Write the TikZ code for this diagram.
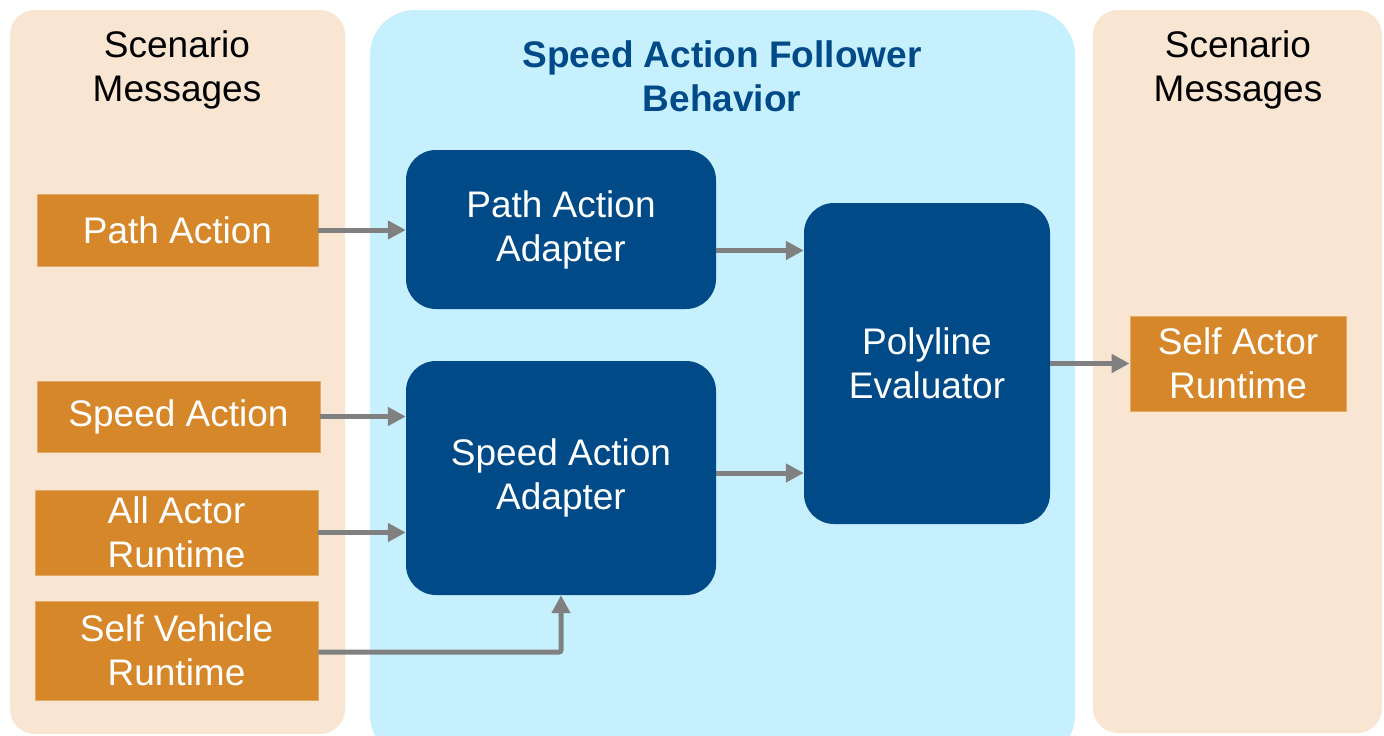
\documentclass[tikz,border=0pt]{standalone}
\usepackage{fontspec}
\setmainfont{Liberation Sans}
\usetikzlibrary{arrows.meta,calc}
\definecolor{beige}{HTML}{F8E6D3}
\definecolor{lblue}{HTML}{C6F0FE}
\definecolor{orng}{HTML}{D6872A}
\definecolor{dblue}{HTML}{004A87}
\definecolor{agray}{HTML}{808080}
\tikzset{
  obox/.style={fill=orng, draw=orng!70!white, line width=0.8pt, text=white, align=center,
    font=\fontsize{37}{44}\selectfont, inner sep=0pt},
  bbox/.style={fill=dblue, rounded corners=30pt, text=white, align=center,
    font=\fontsize{37}{44}\selectfont, inner sep=0pt},
  hdr/.style={align=center, font=\fontsize{37}{44}\selectfont, inner sep=0pt},
  conn/.style={draw=agray, line width=5pt, -{Triangle[length=18pt,width=18pt]}}
}
\begin{document}
\begin{tikzpicture}[x=1pt,y=-1pt]
\useasboundingbox (0,0) rectangle (1384,736);
\fill[white] (0,0) rectangle (1384,736);
% panels
\fill[beige, rounded corners=25pt] (10,10) rectangle (345,734);
\fill[lblue, rounded corners=45pt] (370,10) rectangle (1075,760);
\fill[beige, rounded corners=25pt] (1093,10) rectangle (1382,733);
% headers
\node[hdr] (h1) at (177,70) {Scenario\\Messages};
\node[hdr] (h2) at (1238,70) {Scenario\\Messages};
\node[hdr, text=dblue, font=\fontsize{37}{44}\selectfont\bfseries] (title) at (722,76) {Speed Action Follower\\Behavior};
% orange boxes
\node[obox, minimum width=281pt, minimum height=72pt] (pa) at (177.5,230) {Path Action};
\node[obox, minimum width=283pt, minimum height=71pt] (sa) at (178.5,416.5) {Speed Action};
\node[obox, minimum width=283pt, minimum height=85pt] (aa) at (176.5,532.5) {All Actor\\Runtime};
\node[obox, minimum width=283pt, minimum height=99pt] (sv) at (176.5,650.5) {Self Vehicle\\Runtime};
\node[obox, minimum width=216pt, minimum height=95pt] (sar) at (1238,363.5) {Self Actor\\Runtime};
% blue boxes
\node[bbox, minimum width=310pt, minimum height=159pt] (paa) at (561,229.5) {\raisebox{-3pt}{\parbox{300pt}{\centering Path Action\\Adapter}}};
\node[bbox, minimum width=310pt, minimum height=234pt] (saa) at (561,478) {\raisebox{-3pt}{\parbox{300pt}{\centering Speed Action\\Adapter}}};
\node[bbox, minimum width=246pt, minimum height=321pt] (pe) at (927,363.5) {Polyline\\Evaluator};
% connectors
\draw[conn] (pa.east) -- (pa.east -| paa.west);
\draw[conn] (sa.east) -- (sa.east -| saa.west);
\draw[conn] (aa.east) -- (aa.east -| saa.west);
\draw[conn, rounded corners=2pt] ([yshift=-1.5pt]sv.east) -| (saa.south);
\draw[conn] ([yshift=-21pt]paa.east) -- ([yshift=-21pt]paa.east -| pe.west);
\draw[conn] ([yshift=5pt]saa.east) -- ([yshift=5pt]saa.east -| pe.west);
\draw[conn] (pe.east) -- (pe.east -| sar.west);
\end{tikzpicture}
\end{document}
